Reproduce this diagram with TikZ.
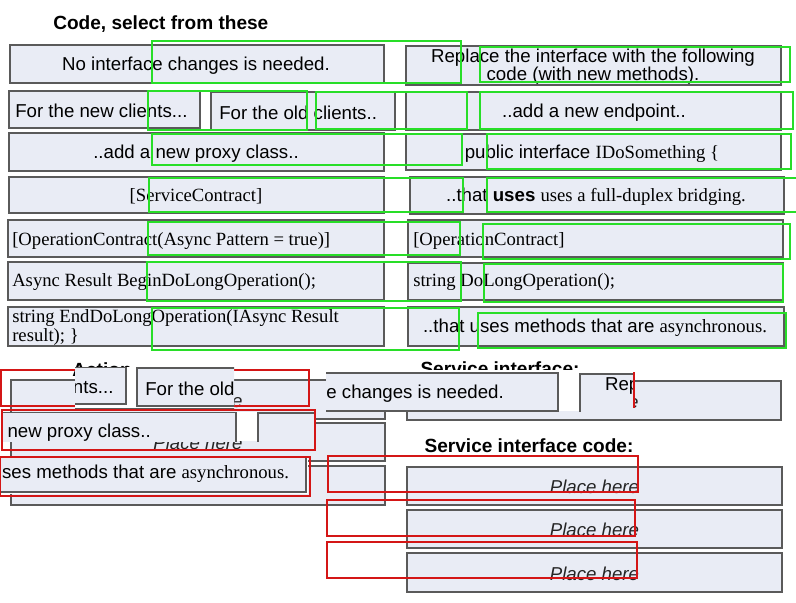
\documentclass[tikz,border=0pt]{standalone}
\usepackage{fontspec}
\setmainfont{Liberation Sans}
\newfontfamily\codeserif{Liberation Serif}
\definecolor{boxfill}{RGB}{233,236,245}
\definecolor{boxline}{RGB}{90,90,90}
\definecolor{markgreen}{RGB}{40,222,40}
\definecolor{markred}{RGB}{212,22,22}
\tikzset{
  cbox/.style={fill=boxfill,draw=boxline,line width=0.9pt},
  txt/.style={font=\fontsize{14}{13.8}\selectfont,inner sep=0pt,yshift=-1.1pt},
  sertxt/.style={txt,font=\fontsize{14}{13.8}\selectfont\codeserif},
  head/.style={font=\fontsize{14.3}{14}\selectfont\bfseries,inner sep=0pt},
  hint/.style={font=\fontsize{14}{14}\selectfont\itshape,text=black!85,inner sep=0pt,yshift=-0.8pt},
  greenbox/.style={draw=markgreen,line width=1.5pt},
  redbox/.style={draw=markred,line width=1.5pt}
}
\begin{document}
\begin{tikzpicture}[x=0.75pt,y=-0.75pt]
\useasboundingbox (0,0) rectangle (796,603);
\def\codeset{%
\foreach \xa/\ya/\xb/\yb in {10/45/384/83,9/91/200/128,211/92/395/130,9/133/384/171,9/177/384/213,8/220/384/257,8/262/384/300,8/307/384/346,406/46/781/85,406/92/781/130,406/134/781/170,410/177/784/214,408/220/783/257,408/263/783/300,408/307/784/346}{\draw[cbox](\xa,\ya) rectangle (\xb,\yb);}
\node[txt] (noint) at (196,64) {No interface changes is needed.};
\node[txt,anchor=west] (newcl) at (15,109) {For the new clients...};
\node[txt,anchor=west] (oldcl) at (219,111) {For the old clients..};
\node[txt] (proxy) at (196,152) {..add a new proxy class..};
\node[sertxt] (scontr) at (196,195) {[ServiceContract]};
\node[sertxt,anchor=west] (opasync) at (12,240) {[OperationContract(Async Pattern = true)]};
\node[sertxt,anchor=west] (beginop) at (12,281) {Async Result BeginDoLongOperation();};
\node[sertxt,anchor=west,align=left] (endop) at (12,326) {string EndDoLongOperation(IAsync Result\\result); \}};
\node[txt,align=center] (replace) at (593,65) {Replace the interface with the following\\code (with new methods).};
\node[txt] (endpt) at (594,111) {..add a new endpoint..};
\node[txt] (pubif) at (592,152) {public interface {\codeserif IDoSomething \{}};
\node[txt] (duplex) at (596,195) {..that \textbf{uses} {\codeserif uses a full-duplex bridging.}};
\node[sertxt,anchor=west] (opcontr) at (413,240) {[OperationContract]};
\node[sertxt,anchor=west] (doop) at (413,281) {string DoLongOperation();};
\node[txt] (asyncm) at (595,326) {..that uses methods that are {\codeserif asynchronous.}};
}
\def\frag#1#2#3#4#5#6{\begin{scope}\clip(#1,#2) rectangle (#3,#4);\fill[white](#1,#2) rectangle (#3,#4);\begin{scope}[shift={(#5,#6)}]\codeset\end{scope}\end{scope}}
\node[head,anchor=west] (codehead) at (53,24) {Code, select from these};
\codeset
\foreach \xa/\ya/\xb/\yb in {152/41/461/83,480/47/790/82,148/91/307/130,316/92/467/129,480/92/793/129,152/134/462/165,487/134/791/169,149/178/463/212,487/178/805/212,148/222/460/255,483/224/790/259,147/262/461/301,484/264/783/302,152/308/459/350,478/313/786/348}{\draw[greenbox](\xa,\ya) rectangle (\xb,\yb);}
\node[head] (acthead) at (102,370) {Action};
\node[head] (sihead) at (500,369) {Service interface:};
\node[head] (sichead) at (529,446) {Service interface code:};
\foreach \xa/\ya/\xb/\yb/\nm in {11/380/385/419/act1,11/423/385/461/act2,11/466/385/505/act3,407/381/781/420/sif,407/467/782/505/sic1,407/510/782/548/sic2,407/553/782/592/sic3}{\draw[cbox](\xa,\ya) rectangle (\xb,\yb);\node[hint] (\nm) at ({(\xa+\xb)/2},{(\ya+\yb)/2}) {Place here};}
\draw[redbox] (1,370) rectangle (309,406);
\frag{75}{367}{234}{408}{-74}{276}
\frag{326}{370}{634}{411}{174}{328}
\frag{2}{412}{314}{441}{-148}{279}
\frag{0}{457}{308}{494}{-478}{146}
\foreach \xa/\ya/\xb/\yb in {2/410/315/450,0/457/310/496,328/456/638/492,327/500/635/536,327/542/637/578}{\draw[redbox](\xa,\ya) rectangle (\xb,\yb);}
\draw[markred,line width=1pt] (634,372) -- (634,408);
\end{tikzpicture}
\end{document}
